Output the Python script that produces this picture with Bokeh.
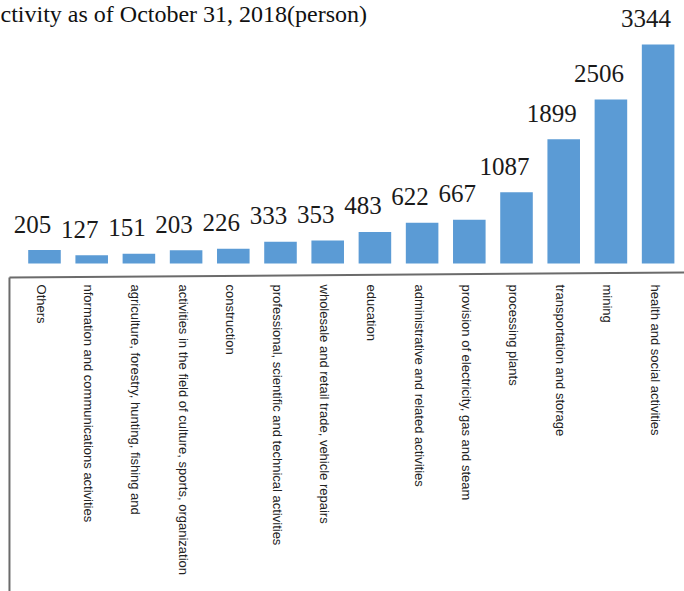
from bokeh.plotting import figure
from bokeh.models import ColumnDataSource, Range1d, Label
from bokeh.core.properties import value
from bokeh.embed import file_html
from bokeh.resources import INLINE
import math

# ---- data ----
categories = [
    "Others",
    "nformation and communications activities",
    "agriculture, forestry, hunting, fishing and",
    "activities in the field of culture, sports, organization",
    "construction",
    "professional, scientific and technical activities",
    "wholesale and retail trade, vehicle repairs",
    "education",
    "administrative and related activities",
    "provision of electricity, gas and steam",
    "processing plants",
    "transportation and storage",
    "mining",
    "health and social activities",
]
persons = [205, 127, 151, 203, 226, 333, 353, 483, 622, 667, 1087, 1899, 2506, 3344]
title_text = "ctivity as of October 31, 2018(person)"

W, H = 684, 591
idx = list(range(len(categories)))

p = figure(width=W, height=H, output_backend="svg", toolbar_location=None,
           x_range=Range1d(-0.932, 13.559), y_range=Range1d(-5008, 4016),
           min_border=0, min_border_left=0, min_border_right=0,
           min_border_top=0, min_border_bottom=0)
p.axis.visible = False
p.grid.visible = False
p.outline_line_color = None
p.background_fill_color = "white"
p.border_fill_color = "white"

src = ColumnDataSource(dict(x=idx, y=persons, cat=categories,
                            lab=[str(v) for v in persons]))

p.vbar(x="x", top="y", bottom=0, width=0.69, source=src,
       fill_color="#5B9BD5", line_color=None)

p.text(x="x", y="y", text="lab", source=src, x_offset=-12, y_offset=-26,
       text_align="center", text_baseline="alphabetic",
       text_font=value("Liberation Serif"), text_font_size="25px",
       text_color="#1a1a1a")

# category axis frame lines
p.segment(x0=[-0.742], y0=[-214], x1=[13.56], y1=[-137],
          line_color="#6b6b6b", line_width=2)
p.segment(x0=[-0.742], y0=[-214], x1=[-0.742], y1=[-5008],
          line_color="#6b6b6b", line_width=2)

p.text(x="x", y=0, text="cat", source=src, angle=-math.pi / 2,
       x_offset=-3, y_offset=21,
       text_align="left", text_baseline="middle",
       text_font=value("Liberation Sans"), text_font_size="13px",
       text_color="#222222")

p.add_layout(Label(x=0, y=H, x_units="screen", y_units="screen",
                   text=title_text, text_font="Liberation Serif",
                   text_font_size="24px", text_color="#111111",
                   text_baseline="top"))

open("out.html", "w").write(file_html(p, INLINE))
